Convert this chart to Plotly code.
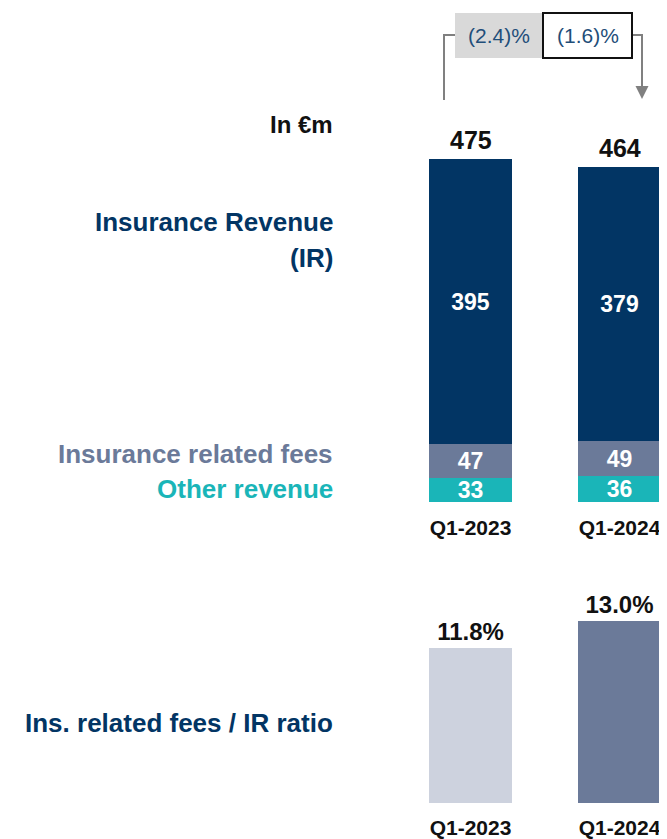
import plotly.graph_objects as go

# ---- data ----
periods = ["Q1-2023", "Q1-2024"]
insurance_revenue = [395, 379]
insurance_fees = [47, 49]
other_revenue = [33, 36]
fees_ir_ratio = [11.8, 13.0]
growth_labels = ["(2.4)%", "(1.6)%"]

OFF = 8  # default page body margin
W, H = 667 - OFF, 839 - OFF
FONT = "Liberation Sans, Arial, sans-serif"
NAVY = "#023564"
FEES = "#6B7A99"
TEAL = "#1AB5B8"
LIGHT = "#CDD2DE"
GREY = "#808080"


def px(x):
    return (x - OFF) / W


def py(y):
    return 1 - (y - OFF) / H


totals = [a + b + c for a, b, c in zip(insurance_revenue, insurance_fees, other_revenue)]

fig = go.Figure()
bar_w = 83 / 149
inside_font = dict(family=FONT, size=23, color="white", weight="bold")

for vals, col in [(other_revenue, TEAL), (insurance_fees, FEES), (insurance_revenue, NAVY)]:
    fig.add_trace(go.Bar(
        x=periods, y=vals, marker=dict(color=col, line=dict(width=0)),
        width=bar_w, text=[str(v) for v in vals], textposition="inside",
        insidetextanchor="middle", constraintext="none", textangle=0, textfont=inside_font,
        xaxis="x", yaxis="y", hoverinfo="skip", showlegend=False,
    ))

fig.add_trace(go.Bar(
    x=periods, y=fees_ir_ratio, marker=dict(color=[LIGHT, FEES], line=dict(width=0)),
    width=bar_w, text=[f"{v:.1f}%" for v in fees_ir_ratio], textposition="outside",
    constraintext="none", textangle=0, cliponaxis=False,
    textfont=dict(family=FONT, size=24, color="#111111", weight="bold"),
    xaxis="x2", yaxis="y2", hoverinfo="skip", showlegend=False,
))

c0 = 470.5 - OFF
xr = [-c0 / 149, -c0 / 149 + W / 149]
tickfont = dict(family=FONT, size=21, color="#111111", weight="bold")
axis_common = dict(type="category", range=xr, showgrid=False, zeroline=False,
                   showline=False, ticks="", tickfont=tickfont)

fig.update_layout(
    width=W, height=H, margin=dict(l=0, r=0, t=0, b=0),
    paper_bgcolor="white", plot_bgcolor="white",
    barmode="stack", bargap=0,
    xaxis=dict(domain=[0, 1], anchor="y", ticklabelstandoff=11, **axis_common),
    yaxis=dict(domain=[py(502), 1], range=[0, (502 - OFF) / 0.7221], visible=False),
    xaxis2=dict(domain=[0, 1], anchor="y2", ticklabelstandoff=10, **axis_common),
    yaxis2=dict(domain=[py(803), py(560)], range=[4.91, 4.91 + 243 / 22.5], visible=False),
    font=dict(family=FONT),
)

# totals on top of stacked bars
for p, t in zip(periods, totals):
    fig.add_annotation(x=p, y=t, xref="x", yref="y", text=str(t), showarrow=False,
                       yanchor="bottom", yshift=3,
                       font=dict(family=FONT, size=25, color="#111111", weight="bold"))

# left-side labels
labels = [
    ("In €m", 124, "#111111"),
    ("Insurance Revenue", 222, NAVY),
    ("(IR)", 258, NAVY),
    ("Insurance related fees", 454, FEES),
    ("Other revenue", 489, TEAL),
    ("Ins. related fees / IR ratio", 723, NAVY),
]
for txt, yy, col in labels:
    fig.add_annotation(x=px(335), y=py(yy), xref="paper", yref="paper", text=txt,
                       showarrow=False, xanchor="right", yanchor="middle",
                       font=dict(family=FONT, size=26 if txt != "In €m" else 24, color=col, weight="bold"))

# growth bracket
line = dict(color=GREY, width=2)
fig.add_shape(type="path", xref="paper", yref="paper",
              path=f"M {px(444)},{py(100)} L {px(444)},{py(35)} L {px(455)},{py(35)}", line=line)
fig.add_shape(type="path", xref="paper", yref="paper",
              path=f"M {px(632)},{py(35)} L {px(642)},{py(35)} L {px(642)},{py(88)}", line=line)
fig.add_annotation(x=px(642), y=py(99), xref="paper", yref="paper", ax=0, ay=-13,
                   axref="pixel", ayref="pixel", showarrow=True, arrowhead=2, arrowsize=1.3,
                   arrowwidth=2, arrowcolor=GREY, text="")
fig.add_shape(type="rect", xref="paper", yref="paper", x0=px(455), x1=px(543), y0=py(58), y1=py(13),
              fillcolor="#D9D9D9", line=dict(width=0))
fig.add_shape(type="rect", xref="paper", yref="paper", x0=px(543), x1=px(632), y0=py(58), y1=py(13),
              fillcolor="white", line=dict(color="#111111", width=2))
for txt, cx in zip(growth_labels, [499, 587.5]):
    fig.add_annotation(x=px(cx), y=py(36), xref="paper", yref="paper", text=txt, showarrow=False,
                       xanchor="center", yanchor="middle",
                       font=dict(family=FONT, size=21, color="#1F4E79"))

fig.write_html("out.html")
